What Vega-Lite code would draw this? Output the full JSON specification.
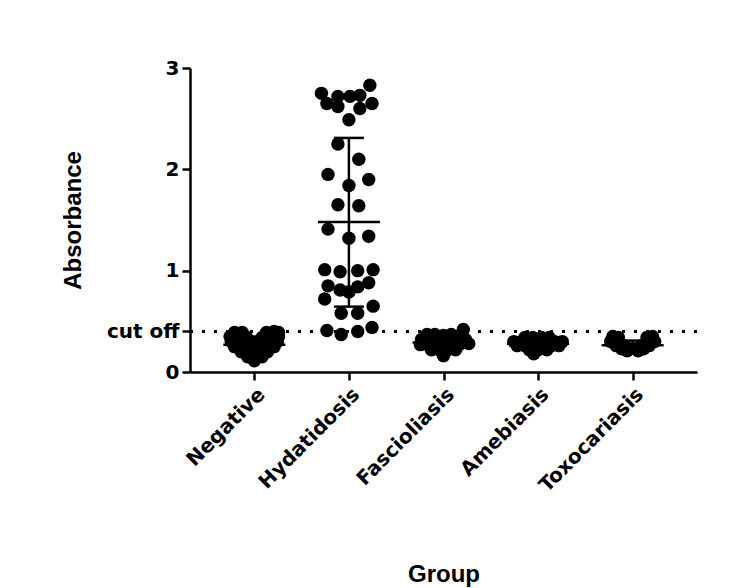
{
  "$schema": "https://vega.github.io/schema/vega-lite/v6.json",
  "width": 507,
  "height": 304,
  "autosize": {"type": "none"},
  "padding": {"left": 190, "top": 68, "right": 56, "bottom": 216},
  "background": "white",
  "config": {
    "view": {"stroke": null},
    "axis": {
      "domainColor": "black", "domainWidth": 2.5, "tickColor": "black", "tickWidth": 2.5, "tickSize": 8,
      "labelFont": "DejaVu Sans", "labelFontWeight": "bold", "labelFontSize": 20, "labelColor": "black",
      "titleFont": "Liberation Sans", "titleFontWeight": "bold", "titleFontSize": 24, "titleColor": "black",
      "grid": false
    }
  },
  "datasets": {
    "points": [
      {"Group": "Negative", "value": 0.39, "slot": -1.8}, {"Group": "Negative", "value": 0.39, "slot": -1.1},
      {"Group": "Negative", "value": 0.39, "slot": 1.1}, {"Group": "Negative", "value": 0.40, "slot": 1.8},
      {"Group": "Negative", "value": 0.39, "slot": 2.2},
      {"Group": "Negative", "value": 0.35, "slot": -2.2}, {"Group": "Negative", "value": 0.35, "slot": -1.5},
      {"Group": "Negative", "value": 0.34, "slot": -0.7}, {"Group": "Negative", "value": 0.34, "slot": 0.7},
      {"Group": "Negative", "value": 0.35, "slot": 1.5}, {"Group": "Negative", "value": 0.35, "slot": 2.2},
      {"Group": "Negative", "value": 0.30, "slot": -2.1}, {"Group": "Negative", "value": 0.30, "slot": -1.4},
      {"Group": "Negative", "value": 0.30, "slot": -0.7}, {"Group": "Negative", "value": 0.29, "slot": 0},
      {"Group": "Negative", "value": 0.30, "slot": 0.7}, {"Group": "Negative", "value": 0.30, "slot": 1.4},
      {"Group": "Negative", "value": 0.30, "slot": 2.1},
      {"Group": "Negative", "value": 0.25, "slot": -1.8}, {"Group": "Negative", "value": 0.25, "slot": -1.1},
      {"Group": "Negative", "value": 0.25, "slot": -0.4}, {"Group": "Negative", "value": 0.25, "slot": 0.4},
      {"Group": "Negative", "value": 0.25, "slot": 1.1}, {"Group": "Negative", "value": 0.25, "slot": 1.8},
      {"Group": "Negative", "value": 0.20, "slot": -1.2}, {"Group": "Negative", "value": 0.20, "slot": -0.5},
      {"Group": "Negative", "value": 0.20, "slot": 0.5}, {"Group": "Negative", "value": 0.20, "slot": 1.2},
      {"Group": "Negative", "value": 0.15, "slot": -0.6}, {"Group": "Negative", "value": 0.15, "slot": 0.2},
      {"Group": "Negative", "value": 0.15, "slot": 0.7}, {"Group": "Negative", "value": 0.11, "slot": 0},

      {"Group": "Hydatidosis", "value": 2.83, "slot": 1.9}, {"Group": "Hydatidosis", "value": 2.75, "slot": -2.5},
      {"Group": "Hydatidosis", "value": 2.72, "slot": -1}, {"Group": "Hydatidosis", "value": 2.72, "slot": 0.1},
      {"Group": "Hydatidosis", "value": 2.73, "slot": 1}, {"Group": "Hydatidosis", "value": 2.65, "slot": -2},
      {"Group": "Hydatidosis", "value": 2.62, "slot": -1}, {"Group": "Hydatidosis", "value": 2.65, "slot": 2.1},
      {"Group": "Hydatidosis", "value": 2.60, "slot": 1}, {"Group": "Hydatidosis", "value": 2.49, "slot": 0},
      {"Group": "Hydatidosis", "value": 2.25, "slot": -1}, {"Group": "Hydatidosis", "value": 2.10, "slot": 0.9},
      {"Group": "Hydatidosis", "value": 1.95, "slot": -1.9}, {"Group": "Hydatidosis", "value": 1.90, "slot": 1.8},
      {"Group": "Hydatidosis", "value": 1.84, "slot": 0}, {"Group": "Hydatidosis", "value": 1.65, "slot": -1},
      {"Group": "Hydatidosis", "value": 1.64, "slot": 0.9}, {"Group": "Hydatidosis", "value": 1.41, "slot": -1.9},
      {"Group": "Hydatidosis", "value": 1.32, "slot": 0}, {"Group": "Hydatidosis", "value": 1.34, "slot": 1.8},
      {"Group": "Hydatidosis", "value": 1.01, "slot": -2.2}, {"Group": "Hydatidosis", "value": 0.99, "slot": -0.8},
      {"Group": "Hydatidosis", "value": 1.00, "slot": 0.8}, {"Group": "Hydatidosis", "value": 1.01, "slot": 2.2},
      {"Group": "Hydatidosis", "value": 0.85, "slot": -1.9}, {"Group": "Hydatidosis", "value": 0.81, "slot": -0.8},
      {"Group": "Hydatidosis", "value": 0.79, "slot": 0}, {"Group": "Hydatidosis", "value": 0.84, "slot": 0.8},
      {"Group": "Hydatidosis", "value": 0.88, "slot": 1.8}, {"Group": "Hydatidosis", "value": 0.72, "slot": -2.2},
      {"Group": "Hydatidosis", "value": 0.65, "slot": 2.2}, {"Group": "Hydatidosis", "value": 0.58, "slot": -0.7},
      {"Group": "Hydatidosis", "value": 0.58, "slot": 0.8}, {"Group": "Hydatidosis", "value": 0.41, "slot": -2},
      {"Group": "Hydatidosis", "value": 0.37, "slot": -0.7}, {"Group": "Hydatidosis", "value": 0.40, "slot": 0.8},
      {"Group": "Hydatidosis", "value": 0.44, "slot": 2.1},

      {"Group": "Fascioliasis", "value": 0.42, "slot": 1.8},
      {"Group": "Fascioliasis", "value": 0.37, "slot": -1.5}, {"Group": "Fascioliasis", "value": 0.37, "slot": -0.8},
      {"Group": "Fascioliasis", "value": 0.36, "slot": 0}, {"Group": "Fascioliasis", "value": 0.37, "slot": 0.7},
      {"Group": "Fascioliasis", "value": 0.32, "slot": -2.0}, {"Group": "Fascioliasis", "value": 0.32, "slot": -1.2},
      {"Group": "Fascioliasis", "value": 0.32, "slot": -0.4}, {"Group": "Fascioliasis", "value": 0.32, "slot": 0.4},
      {"Group": "Fascioliasis", "value": 0.32, "slot": 1.2}, {"Group": "Fascioliasis", "value": 0.32, "slot": 2.0},
      {"Group": "Fascioliasis", "value": 0.27, "slot": -2.1}, {"Group": "Fascioliasis", "value": 0.27, "slot": -1.4},
      {"Group": "Fascioliasis", "value": 0.27, "slot": -0.7}, {"Group": "Fascioliasis", "value": 0.27, "slot": 0},
      {"Group": "Fascioliasis", "value": 0.27, "slot": 0.7}, {"Group": "Fascioliasis", "value": 0.27, "slot": 1.4},
      {"Group": "Fascioliasis", "value": 0.28, "slot": 2.3},
      {"Group": "Fascioliasis", "value": 0.22, "slot": -1.1}, {"Group": "Fascioliasis", "value": 0.22, "slot": -0.4},
      {"Group": "Fascioliasis", "value": 0.22, "slot": 0.4}, {"Group": "Fascioliasis", "value": 0.22, "slot": 1.1},
      {"Group": "Fascioliasis", "value": 0.16, "slot": 0},

      {"Group": "Amebiasis", "value": 0.34, "slot": -1.2}, {"Group": "Amebiasis", "value": 0.34, "slot": -0.5},
      {"Group": "Amebiasis", "value": 0.34, "slot": 0.3}, {"Group": "Amebiasis", "value": 0.34, "slot": 1.0},
      {"Group": "Amebiasis", "value": 0.30, "slot": -2.2}, {"Group": "Amebiasis", "value": 0.30, "slot": -1.5},
      {"Group": "Amebiasis", "value": 0.30, "slot": -0.8}, {"Group": "Amebiasis", "value": 0.30, "slot": 0},
      {"Group": "Amebiasis", "value": 0.30, "slot": 0.8}, {"Group": "Amebiasis", "value": 0.30, "slot": 1.5},
      {"Group": "Amebiasis", "value": 0.30, "slot": 2.2},
      {"Group": "Amebiasis", "value": 0.26, "slot": -1.9}, {"Group": "Amebiasis", "value": 0.26, "slot": -1.2},
      {"Group": "Amebiasis", "value": 0.26, "slot": -0.4}, {"Group": "Amebiasis", "value": 0.26, "slot": 0.4},
      {"Group": "Amebiasis", "value": 0.26, "slot": 1.2}, {"Group": "Amebiasis", "value": 0.26, "slot": 1.9},
      {"Group": "Amebiasis", "value": 0.22, "slot": -0.8}, {"Group": "Amebiasis", "value": 0.22, "slot": 0},
      {"Group": "Amebiasis", "value": 0.22, "slot": 0.8}, {"Group": "Amebiasis", "value": 0.18, "slot": -0.4},

      {"Group": "Toxocariasis", "value": 0.35, "slot": -1.8}, {"Group": "Toxocariasis", "value": 0.35, "slot": 1.8},
      {"Group": "Toxocariasis", "value": 0.34, "slot": -1.3}, {"Group": "Toxocariasis", "value": 0.34, "slot": 1.3},
      {"Group": "Toxocariasis", "value": 0.30, "slot": -2.0}, {"Group": "Toxocariasis", "value": 0.30, "slot": -1.4},
      {"Group": "Toxocariasis", "value": 0.30, "slot": 1.4}, {"Group": "Toxocariasis", "value": 0.30, "slot": 2.0},
      {"Group": "Toxocariasis", "value": 0.26, "slot": -1.5}, {"Group": "Toxocariasis", "value": 0.26, "slot": -0.8},
      {"Group": "Toxocariasis", "value": 0.26, "slot": 0.8}, {"Group": "Toxocariasis", "value": 0.26, "slot": 1.5},
      {"Group": "Toxocariasis", "value": 0.23, "slot": -1.0}, {"Group": "Toxocariasis", "value": 0.23, "slot": -0.3},
      {"Group": "Toxocariasis", "value": 0.23, "slot": 0.3}, {"Group": "Toxocariasis", "value": 0.23, "slot": 1.0},
      {"Group": "Toxocariasis", "value": 0.21, "slot": -0.5}, {"Group": "Toxocariasis", "value": 0.21, "slot": 0.5}
    ],
    "summary": [
      {"Group": "Negative", "mean": 0.27, "lower": 0.19, "upper": 0.35},
      {"Group": "Hydatidosis", "mean": 1.48, "lower": 0.645, "upper": 2.31},
      {"Group": "Fascioliasis", "mean": 0.29, "lower": 0.23, "upper": 0.35},
      {"Group": "Amebiasis", "mean": 0.28, "lower": 0.24, "upper": 0.32},
      {"Group": "Toxocariasis", "mean": 0.265, "lower": 0.22, "upper": 0.31}
    ],
    "cutoff": [{"cutoff": 0.4}]
  },
  "encoding": {
    "x": {
      "field": "Group", "type": "nominal", "title": "Group",
      "scale": {"type": "point", "domain": ["Negative", "Hydatidosis", "Fascioliasis", "Amebiasis", "Toxocariasis"], "padding": 0.68},
      "axis": {"labelAngle": -45, "labelPadding": 4, "titleX": 253.5, "titleY": 202, "titleBaseline": "middle", "titleAlign": "center"}
    }
  },
  "layer": [
    {
      "data": {"name": "cutoff"},
      "mark": {"type": "rule", "color": "black", "strokeWidth": 3, "strokeDash": [3, 9]},
      "encoding": {
        "x": null,
        "y": {"field": "cutoff", "type": "quantitative", "title": "Absorbance",
          "scale": {"domain": [0, 3], "nice": false}}
      }
    },
    {
      "data": {"name": "points"},
      "mark": {"type": "circle", "color": "black", "opacity": 1, "size": 180},
      "encoding": {
        "xOffset": {"field": "slot", "type": "quantitative", "scale": {"domain": [-3, 3], "range": [-33, 33]}},
        "y": {"field": "value", "type": "quantitative", "title": "Absorbance",
          "scale": {"domain": [0, 3], "nice": false},
          "axis": {"values": [0, 0.4, 1, 2, 3], "labelExpr": "datum.value == 0.4 ? 'cut off' : format(datum.value, 'd')", "labelPadding": 3,
            "titleX": -117, "titleY": 152, "titleAlign": "center", "titleBaseline": "middle"}}
      }
    },
    {
      "data": {"name": "summary"},
      "mark": {"type": "rule", "color": "black", "strokeWidth": 2.5},
      "encoding": {
        "y": {"field": "lower", "type": "quantitative", "title": "Absorbance"},
        "y2": {"field": "upper"}
      }
    },
    {
      "data": {"name": "summary"},
      "mark": {"type": "tick", "color": "black", "thickness": 2.5, "size": 62, "opacity": 1},
      "encoding": {"y": {"field": "mean", "type": "quantitative", "title": "Absorbance"}}
    },
    {
      "data": {"name": "summary"},
      "mark": {"type": "tick", "color": "black", "thickness": 2.5, "size": 30, "opacity": 1},
      "encoding": {"y": {"field": "lower", "type": "quantitative", "title": "Absorbance"}}
    },
    {
      "data": {"name": "summary"},
      "mark": {"type": "tick", "color": "black", "thickness": 2.5, "size": 30, "opacity": 1},
      "encoding": {"y": {"field": "upper", "type": "quantitative", "title": "Absorbance"}}
    }
  ]
}
